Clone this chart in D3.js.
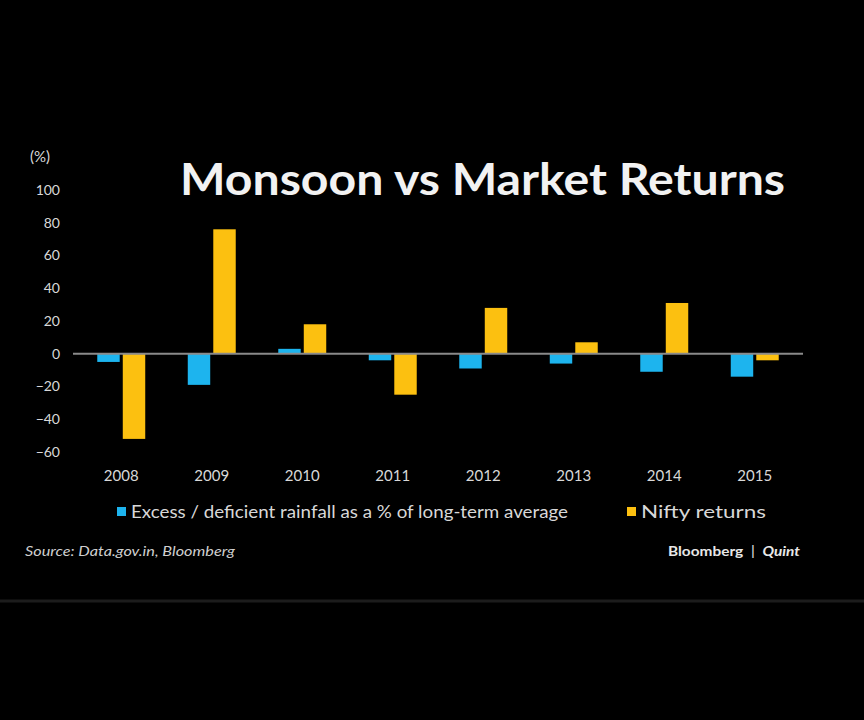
<!DOCTYPE html>
<html>
<head>
<meta charset="utf-8">
<script src="https://cdn.jsdelivr.net/npm/d3@7"></script>
<style>
  html, body { margin: 0; padding: 0; background: #000; }
  svg { display: block; }
</style>
</head>
<body>
<svg id="chart" width="864" height="720"></svg>
<script>
"use strict";
var years = ["2008", "2009", "2010", "2011", "2012", "2013", "2014", "2015"];
var rainfall = [-5, -19, 3, -4, -9, -6, -11, -14];
var nifty = [-52, 76, 18, -25, 28, 7, 31, -4];
var yTicks = [100, 80, 60, 40, 20, 0, -20, -40, -60];
var seriesNames = ["Excess / deficient rainfall as a % of long-term average", "Nifty returns"];
var seriesColors = ["#1db4ee", "#fcc010"];

var width = 864, height = 720;
var svg = d3.select("#chart");

svg.append("rect")
	.attr("width", width)
	.attr("height", height)
	.attr("fill", "#000");

// scales
var x = d3.scaleBand()
	.domain(years)
	.range([76, 800])
	.paddingInner(0.47)
	.paddingOuter(0.235);
var sub = d3.scaleBand()
	.domain([0, 1])
	.range([0, x.bandwidth()])
	.paddingInner(0.12);
var y = d3.scaleLinear()
	.domain([-60, 100])
	.range([452, 190]);

// rows for grouped bars
var rows = years.map(function(yr, i) { return {year: yr, vals: [rainfall[i], nifty[i]]}; });

var groups = svg.selectAll("g.grp")
	.data(rows)
	.enter()
	.append("g")
	.attr("class", "grp")
	.attr("transform", function(d) { return "translate(" + x(d.year) + ",0)"; });

groups.selectAll("rect")
	.data(function(d) { return d.vals.map(function(v, k) { return {k: k, v: v}; }); })
	.enter()
	.append("rect")
	.attr("x", function(d) { return sub(d.k); })
	.attr("width", sub.bandwidth())
	.attr("y", function(d) { return y(Math.max(0, d.v)); })
	.attr("height", function(d) { return Math.abs(y(d.v) - y(0)); })
	.attr("fill", function(d) { return seriesColors[d.k]; });

// zero line
svg.append("line")
	.attr("x1", 73)
	.attr("x2", 803)
	.attr("y1", y(0))
	.attr("y2", y(0))
	.attr("stroke", "#8a8a8a")
	.attr("stroke-width", 2);

// y axis, no line
var yAxis = svg.append("g")
	.attr("transform", "translate(60,0)")
	.call(d3.axisLeft(y).tickValues(yTicks).tickSize(0).tickPadding(0));
yAxis.select(".domain").remove();
yAxis.selectAll("text")
	.attr("fill", "#d8d8d8")
	.style("font-family", "Lato, 'Open Sans', sans-serif")
	.style("font-size", "14px");

svg.append("text")
	.attr("x", 30)
	.attr("y", 162)
	.attr("fill", "#d8d8d8")
	.style("font-family", "Lato, sans-serif")
	.style("font-size", "15px")
	.text("(%)");

// x axis labels
var xAxis = svg.append("g")
	.attr("transform", "translate(0,470)")
	.call(d3.axisBottom(x).tickSize(0).tickPadding(0));
xAxis.select(".domain").remove();
xAxis.selectAll("text")
	.attr("fill", "#d8d8d8")
	.style("font-family", "Lato, sans-serif")
	.style("font-size", "15px");

// title
svg.append("text")
	.attr("x", 180)
	.attr("y", 195)
	.attr("fill", "#f2f2f2")
	.style("font-family", "Lato, sans-serif")
	.style("font-weight", "bold")
	.style("font-size", "44px")
	.attr("textLength", 605)
	.attr("lengthAdjust", "spacingAndGlyphs")
	.text("Monsoon vs Market Returns");

// legend
var legendX = [117, 627];
var legendW = [437, 125];
var leg = svg.selectAll("g.leg")
	.data(seriesNames)
	.enter()
	.append("g")
	.attr("class", "leg")
	.attr("transform", function(d, i) { return "translate(" + legendX[i] + ",512)"; });
leg.append("rect")
	.attr("x", 0)
	.attr("y", -5)
	.attr("width", 9)
	.attr("height", 9)
	.attr("fill", function(d, i) { return seriesColors[i]; });
leg.append("text")
	.attr("x", 14)
	.attr("y", 6)
	.attr("fill", "#d8d8d8")
	.style("font-family", "Lato, sans-serif")
	.style("font-size", "17px")
	.attr("textLength", function(d, i) { return legendW[i]; })
	.attr("lengthAdjust", "spacingAndGlyphs")
	.text(function(d) { return d; });

// footer
svg.append("text")
	.attr("x", 25)
	.attr("y", 556)
	.attr("fill", "#cfcfcf")
	.style("font-family", "Lato, sans-serif")
	.style("font-style", "italic")
	.style("font-size", "14px")
	.attr("textLength", 210)
	.attr("lengthAdjust", "spacingAndGlyphs")
	.text("Source: Data.gov.in, Bloomberg");

var brand = svg.append("text")
	.attr("x", 668)
	.attr("y", 556)
	.attr("fill", "#e8e8e8")
	.style("font-family", "Lato, sans-serif")
	.style("font-size", "14px")
	.attr("textLength", 132)
	.attr("lengthAdjust", "spacingAndGlyphs");
brand.append("tspan").style("font-weight", "bold").text("Bloomberg");
brand.append("tspan").attr("dx", 7).text("|");
brand.append("tspan").attr("dx", 7).style("font-style", "italic").style("font-weight", "bold").text("Quint");

// divider near bottom
svg.append("line")
	.attr("x1", 0)
	.attr("x2", width)
	.attr("y1", 601)
	.attr("y2", 601)
	.attr("stroke", "#1c1c1c")
	.attr("stroke-width", 3);
</script>
</body>
</html>
